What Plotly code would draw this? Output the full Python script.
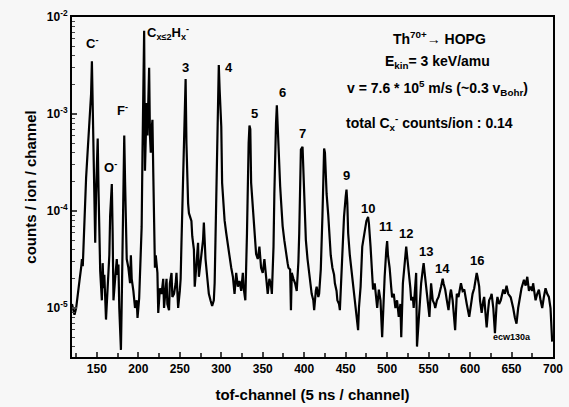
import plotly.graph_objects as go

channels = [120,121,123,125,127,129,131,132,133,135,137,139,141,142,143,144,145,146,147,148,149,150,151,152,153,154,156,157,158,159,161,162,163,165,166,168,169,170,172,174,175,176,177,179,180,181,182,183,184,185,186,188,190,191,192,194,196,198,199,201,202,204,205,206,207,208,209,210,211,212,213,214,215,216,217,218,219,220,221,223,224,226,228,230,231,232,234,235,237,238,240,241,243,245,246,247,248,250,251,252,253,254,255,256,257,258,259,260,261,263,264,265,267,268,270,272,273,275,276,278,279,280,281,283,285,287,289,291,292,293,294,295,296,297,298,299,300,301,303,304,306,308,310,312,314,316,318,320,322,324,326,327,329,331,332,333,334,335,336,338,340,342,344,346,348,350,352,354,356,358,360,361,363,364,365,366,367,368,369,371,372,374,376,378,380,381,383,384,385,387,389,391,393,394,395,396,398,399,400,402,404,406,408,409,411,412,414,415,417,418,420,421,422,423,424,425,426,427,429,430,432,434,436,437,439,440,442,443,445,446,448,450,451,452,453,455,458,460,461,463,465,466,468,470,472,475,477,478,480,482,483,485,486,488,490,492,494,496,497,499,500,501,503,505,506,508,510,512,514,516,517,519,521,523,524,526,528,529,531,532,534,535,536,538,539,541,543,544,545,547,549,551,553,555,557,558,560,562,565,567,568,570,572,574,576,577,579,582,584,586,589,591,593,595,596,599,601,603,605,608,609,611,612,614,616,617,619,620,622,623,625,626,628,630,632,633,635,637,640,642,644,646,649,651,652,654,656,658,660,662,665,667,669,671,673,675,676,678,679,681,683,685,687,689,691,693,695,697,698,699]

counts = [1.1e-5,1.0e-5,8.5e-6,1.0e-5,1.3e-5,1.9e-5,2.6e-5,3.2e-5,2.7e-5,1.0e-4,2.2e-4,4.3e-4,8.0e-4,1.0e-3,1.6e-3,3.5e-3,1.1e-3,7.0e-4,2.5e-4,4.7e-5,1.5e-4,3.2e-4,5.6e-4,1.6e-4,5.5e-5,2.4e-5,1.2e-5,2.9e-5,1.6e-5,2.2e-5,7.6e-6,1.2e-5,1.6e-5,3.5e-5,9.0e-5,1.9e-4,6.0e-5,1.2e-5,2.0e-5,3.2e-5,2.2e-5,2.8e-5,1.0e-5,3.7e-6,1.2e-5,6.0e-5,2.0e-4,6.0e-4,2.0e-4,7.0e-5,3.2e-5,2.6e-5,1.8e-5,3.5e-5,2.0e-5,1.5e-5,1.0e-5,1.2e-5,7.9e-6,1.26e-5,2.5e-5,6.9e-5,4.0e-4,1.5e-3,7.2e-3,2.6e-4,5.0e-4,1.3e-3,6.0e-4,1.5e-3,3.0e-3,6.0e-4,4.0e-4,7.0e-4,8.7e-4,2.5e-4,1.0e-4,2.6e-5,3.5e-5,2.3e-5,8.9e-6,1.6e-5,1.4e-5,2.0e-5,1.0e-5,1.35e-5,2.0e-5,1.1e-5,9.5e-6,1.8e-5,2.3e-5,1.3e-5,1.4e-5,1.8e-5,2.3e-5,1.5e-5,1.0e-5,1.5e-5,2.0e-5,4.7e-5,1.2e-4,2.8e-4,8.0e-4,1.5e-3,2.3e-3,5.0e-4,1.8e-4,1.2e-4,9.5e-5,8.5e-5,7.9e-5,5.5e-5,4.0e-5,1.66e-5,3.0e-5,4.7e-5,2.1e-5,3.0e-5,3.4e-5,5.0e-5,7.6e-5,4.0e-5,3.2e-5,2.1e-5,1.4e-5,1.2e-5,1.05e-5,1.2e-5,1.8e-5,5.0e-5,1.3e-4,3.5e-4,1.0e-3,3.2e-3,1.8e-3,1.1e-3,7.4e-4,1.95e-4,1.1e-4,8.0e-5,5.9e-5,4.2e-5,3.4e-5,2.6e-5,2.1e-5,1.4e-5,2.3e-5,1.66e-5,1.9e-5,1.5e-5,2.3e-5,1.6e-5,1.2e-5,5.9e-5,2.0e-4,5.0e-4,7.6e-4,7.0e-4,1.95e-4,1.1e-4,5.0e-5,3.6e-5,3.2e-5,4.3e-5,2.6e-5,2.3e-5,3.2e-5,2.2e-5,1.4e-5,2.0e-5,1.7e-5,1.4e-5,4.3e-5,1.5e-4,4.3e-4,8.0e-4,1.23e-3,7.0e-4,3.6e-4,1.8e-4,1.3e-4,7.0e-5,5.0e-5,3.6e-5,2.9e-5,2.6e-5,2.5e-5,9.5e-6,2.3e-5,2.0e-5,1.8e-5,1.5e-5,3.0e-5,5.9e-5,1.6e-4,4.3e-4,4.6e-4,2.5e-4,1.5e-4,5.0e-5,3.2e-5,2.3e-5,1.8e-5,1.4e-5,1.2e-5,9.5e-6,1.5e-5,1.66e-5,1.3e-5,1.4e-5,2.5e-5,4.0e-5,9.0e-5,1.95e-4,4.4e-4,4.0e-4,2.5e-4,1.5e-4,9.0e-5,5.9e-5,3.5e-5,2.6e-5,2.2e-5,1.8e-5,1.5e-5,1.2e-5,1.1e-5,9.5e-6,2.6e-5,4.5e-5,8.7e-5,1.4e-4,1.66e-4,1.2e-4,5.9e-5,3.5e-5,2.1e-5,1.5e-5,1.2e-5,8.1e-6,5.9e-6,1.0e-5,1.66e-5,4.3e-5,5.5e-5,7.9e-5,8.7e-5,7.5e-5,4.3e-5,2.2e-5,1.55e-5,1.8e-5,1.4e-5,1.0e-5,1.55e-5,1.2e-5,5.0e-6,1.5e-5,2.1e-5,4.0e-5,4.9e-5,3.5e-5,2.6e-5,1.6e-5,1.29e-5,1.4e-5,1.0e-5,1.2e-5,8.1e-6,1.1e-5,5.0e-6,1.8e-5,3.0e-5,4.3e-5,3.5e-5,2.5e-5,1.6e-5,1.2e-5,1.3e-5,1.0e-5,2.0e-5,2.3e-5,4.0e-6,8.0e-6,1.2e-5,1.8e-5,2.5e-5,2.9e-5,2.4e-5,1.66e-5,1.2e-5,8.1e-6,1.8e-5,1.2e-5,1.1e-5,1.0e-5,1.2e-5,1.3e-5,1.66e-5,2.0e-5,1.8e-5,1.55e-5,1.2e-5,9.5e-6,1.4e-5,1.55e-5,1.2e-5,5.9e-6,1.4e-5,1.3e-5,1.8e-5,1.5e-5,1.55e-5,1.3e-5,1.1e-5,8.1e-6,1.1e-5,1.4e-5,1.6e-5,2.3e-5,2.1e-5,1.66e-5,1.2e-5,8.9e-6,1.2e-5,1.3e-5,8.0e-6,6.3e-6,1.0e-5,1.2e-5,1.3e-5,1.4e-5,1.0e-5,5.5e-6,1.1e-5,1.3e-5,1.1e-5,1.2e-5,1.55e-5,1.4e-5,1.7e-5,1.4e-5,1.29e-5,1.1e-5,1.0e-5,8.0e-6,6.9e-6,1.0e-5,1.3e-5,1.6e-5,1.95e-5,1.7e-5,2.1e-5,1.5e-5,1.66e-5,1.5e-5,1.8e-5,1.3e-5,1.2e-5,1.4e-5,1.55e-5,1.2e-5,1.0e-5,1.3e-5,1.6e-5,1.4e-5,1.3e-5,1.0e-5,6.0e-6,4.5e-6]

x_ticks = [150, 200, 250, 300, 350, 400, 450, 500, 550, 600, 650, 700]
y_ticks = [1e-5, 1e-4, 1e-3, 1e-2]
y_tick_labels = ["10<sup>-5</sup>", "10<sup>-4</sup>", "10<sup>-3</sup>", "10<sup>-2</sup>"]

peak_labels = ["C<sup>-</sup>", "O<sup>-</sup>", "F<sup>-</sup>", "3", "4", "5", "6", "7", "9", "10", "11", "12", "13", "14", "16"]
peak_label_x = [144, 166, 181, 257, 309, 340, 374, 398, 451, 477, 499, 523, 547, 567, 608]
peak_label_y = [-2.27, -3.55, -2.96, -2.52, -2.52, -2.99, -2.78, -3.20, -3.63, -3.97, -4.16, -4.23, -4.42, -4.59, -4.51]

info_lines = [
    "Th<sup>70+</sup>→ HOPG",
    "E<sub>kin</sub>= 3 keV/amu",
    "v = 7.6 * 10<sup>5</sup> m/s (~0.3 v<sub>Bohr</sub>)",
    "total C<sub>x</sub><sup>-</sup> counts/ion : 0.14",
]
info_y = [0.938, 0.868, 0.791, 0.688]
info_x = [0.765, 0.759, 0.759, 0.744]

FONT = "Arial, Liberation Sans, sans-serif"

fig = go.Figure()
fig.add_trace(go.Scatter(x=channels, y=counts, mode="lines",
                         line=dict(color="black", width=2.2), showlegend=False))

ann = []
for t, x, y in zip(peak_labels, peak_label_x, peak_label_y):
    ann.append(dict(x=x, y=y, xref="x", yref="y", text=t, showarrow=False,
                    xanchor="center", yanchor="middle",
                    font=dict(family=FONT, size=13, color="black", weight="bold")))
ann.append(dict(x=208, y=-2.16, xref="x", yref="y", xanchor="left", yanchor="middle",
                text="C<sub>x≤2</sub>H<sub>x</sub><sup>-</sup>", showarrow=False,
                font=dict(family=FONT, size=13, color="black", weight="bold")))
for t, x, y in zip(info_lines, info_x, info_y):
    ann.append(dict(x=x, y=y, xref="paper", yref="paper", text=t, showarrow=False,
                    xanchor="center", yanchor="middle",
                    font=dict(family=FONT, size=14, color="black", weight="bold")))
ann.append(dict(x=0.915, y=0.059, xref="paper", yref="paper", text="ecw130a",
                xanchor="center", yanchor="middle",
                showarrow=False, font=dict(family=FONT, size=9, color="black", weight="bold")))

fig.update_layout(
    width=569, height=407,
    margin=dict(l=72, r=16, t=17, b=50, autoexpand=False),
    paper_bgcolor="#f7f7f7", plot_bgcolor="#f7f7f7",
    annotations=ann,
    font=dict(family=FONT, color="black", size=12, weight="bold"),
)
fig.update_xaxes(
    range=[120, 700], tickvals=x_ticks, ticks="inside", ticklen=5, tickwidth=1.5,
    showline=True, linewidth=2, linecolor="black", mirror=True, showgrid=False, zeroline=False,
    automargin=False,
    tickfont=dict(family=FONT, size=12, weight="bold"),
    minor=dict(ticks="inside", ticklen=4, tickwidth=1.5, dtick=25, showgrid=False),
    title=dict(text="tof-channel (5 ns / channel)", font=dict(family=FONT, size=15, weight="bold"), standoff=14),
)
fig.update_yaxes(
    type="log", range=[-5.505, -2], tickvals=y_ticks, ticktext=y_tick_labels,
    ticks="inside", ticklen=5, tickwidth=1.5,
    showline=True, linewidth=2, linecolor="black", mirror=True, showgrid=False, zeroline=False,
    automargin=False,
    tickfont=dict(family=FONT, size=12, weight="bold"),
    minor=dict(ticks="inside", ticklen=3, tickwidth=1.2, dtick="D1", showgrid=False),
    title=dict(text="counts / ion / channel", font=dict(family=FONT, size=15, weight="bold"), standoff=7),
)

fig.write_html("out.html")
